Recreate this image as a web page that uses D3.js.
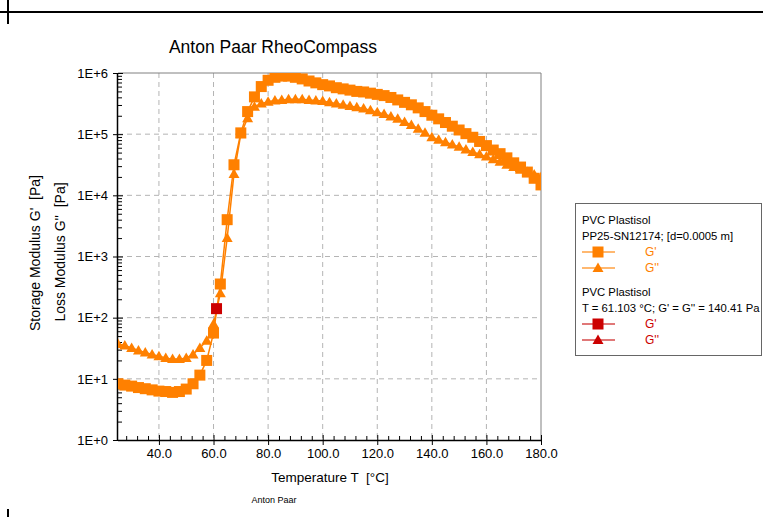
<!DOCTYPE html>
<html>
<head>
<meta charset="utf-8">
<script src="https://cdn.jsdelivr.net/npm/d3@7"></script>
<style>
  body { margin: 0; background: #fff; }
  svg { font-family: Arial, "Liberation Sans", sans-serif; }
  .grid line { stroke: #b4b4b4; stroke-dasharray: 5,4; }
  .axis text { font-size: 13px; fill: #000; }
  .axis path, .axis line { stroke: #000; }
</style>
</head>
<body>
<div class="chart"></div>
<script>
// temperature [°C]
const temps = [25, 27.5, 30, 32.5, 35, 37.5, 40, 42.5, 45, 47.5, 50, 52.5, 55, 57.5, 60, 62.5,
  65, 67.5, 70, 72.5, 75, 77.5, 80, 82.5, 85, 87.5, 90, 92.5, 95, 97.5, 100, 102.5,
  105, 107.5, 110, 112.5, 115, 117.5, 120, 122.5, 125, 127.5, 130, 132.5, 135, 137.5,
  140, 142.5, 145, 147.5, 150, 152.5, 155, 157.5, 160, 162.5, 165, 167.5, 170, 172.5,
  175, 177.5, 180];
// storage modulus G' [Pa]
const gStorage = [8.3, 7.9, 7.6, 7.2, 6.9, 6.6, 6.3, 6.2, 6.0, 6.2, 6.8, 8.3, 11.5, 20, 56, 355,
  4000, 31600, 105000, 234000, 407000, 600000, 760000, 850000, 890000, 890000, 850000, 800000, 740000, 690000, 645000, 615000,
  575000, 550000, 525000, 500000, 490000, 468000, 447000, 427000, 398000, 363000, 331000, 302000, 269000, 234000,
  204000, 178000, 155000, 135000, 117000, 102000, 89000, 76000, 65000, 55000, 48000, 41000, 34000, 29000,
  24000, 19000, 14800];
// loss modulus G'' [Pa]
const gLoss = [37, 35, 32, 29, 27, 25, 23.5, 22, 21, 21, 22, 25, 32, 42, 79, 250,
  2000, 22400, 100000, 182000, 282000, 316000, 339000, 355000, 363000, 372000, 372000, 372000, 363000, 355000, 347000, 331000,
  316000, 302000, 288000, 275000, 263000, 245000, 229000, 214000, 195000, 178000, 158000, 141000, 123000, 105000,
  89000, 81000, 74000, 68000, 62000, 56000, 51000, 47000, 43000, 39000, 35500, 31600, 29000, 26300,
  24000, 22000, 20000];
// crossover point
const crossT = [61.103];
const crossG = [140.41];

const xTicks = [40, 60, 80, 100, 120, 140, 160, 180];
const yTicks = [1, 10, 100, 1000, 10000, 100000, 1000000];

const orange = "#ff8000";
const red = "#cc0000";

const svg = d3.select(".chart")
  .append("svg")
    .attr("width", 763)
    .attr("height", 517);

// page frame marks
svg.append("line").attr("x1", 0).attr("x2", 763).attr("y1", 12).attr("y2", 12)
  .attr("stroke", "#000").attr("stroke-width", 2);
svg.append("line").attr("x1", 8).attr("x2", 8).attr("y1", 0).attr("y2", 24)
  .attr("stroke", "#000").attr("stroke-width", 2);
svg.append("line").attr("x1", 8).attr("x2", 8).attr("y1", 509).attr("y2", 517)
  .attr("stroke", "#000").attr("stroke-width", 2);

const pLeft = 118, pRight = 541, pTop = 73, pBottom = 440;

const x = d3.scaleLinear().domain([25, 180]).range([pLeft, pRight]);
const y = d3.scaleLog().domain([1, 1e6]).range([pBottom, pTop]);

// grid
svg.append("g").attr("class", "grid")
  .selectAll("line").data(xTicks.filter(d => d < 180)).enter().append("line")
    .attr("x1", d => x(d)).attr("x2", d => x(d))
    .attr("y1", pTop).attr("y2", pBottom);
svg.append("g").attr("class", "grid")
  .selectAll("line").data(yTicks.filter(d => d > 1 && d < 1e6)).enter().append("line")
    .attr("x1", pLeft).attr("x2", pRight)
    .attr("y1", d => y(d)).attr("y2", d => y(d));

// frame top / right
svg.append("line").attr("x1", pLeft).attr("x2", pRight).attr("y1", pTop).attr("y2", pTop)
  .attr("stroke", "#808080");
svg.append("line").attr("x1", pRight).attr("x2", pRight).attr("y1", pTop).attr("y2", pBottom)
  .attr("stroke", "#808080");

// minor ticks
const xMinor = d3.range(28, 180, 4).filter(d => !xTicks.includes(d));
const yMinor = [];
yTicks.slice(0, -1).forEach(p => { for (let m = 2; m < 10; m++) yMinor.push(p * m); });

svg.append("g").attr("class", "axis")
  .attr("transform", `translate(0,${pBottom})`)
  .call(d3.axisTop(x).tickValues(xMinor).tickSize(4).tickFormat(""))
  .select(".domain").remove();
svg.append("g").attr("class", "axis")
  .attr("transform", `translate(${pLeft},0)`)
  .call(d3.axisRight(y).tickValues(yMinor).tickSize(4).tickFormat(""))
  .select(".domain").remove();

// major axes
const xAxis = svg.append("g").attr("class", "axis")
  .attr("transform", `translate(0,${pBottom})`)
  .call(d3.axisBottom(x).tickValues(xTicks).tickSizeInner(5).tickSizeOuter(0)
    .tickPadding(4).tickFormat(d3.format(".1f")));
xAxis.select(".domain").attr("d", `M${pLeft},0.5H${pRight}`).attr("stroke-width", 1.5);
xAxis.selectAll(".tick line").attr("y1", -5);

const yAxis = svg.append("g").attr("class", "axis")
  .attr("transform", `translate(${pLeft},0)`)
  .call(d3.axisLeft(y).tickValues(yTicks).tickSizeInner(5).tickSizeOuter(0)
    .tickPadding(5).tickFormat(d => "1E+" + Math.round(Math.log10(d))));
yAxis.select(".domain").attr("d", `M-0.5,${pTop}V${pBottom}`).attr("stroke-width", 1.5);
yAxis.selectAll(".tick line").attr("x1", 5);

// plot clip
svg.append("clipPath").attr("id", "plotclip")
  .append("rect").attr("x", pLeft).attr("y", pTop)
  .attr("width", pRight - pLeft).attr("height", pBottom - pTop);

const plot = svg.append("g").attr("clip-path", "url(#plotclip)");

const seriesStorage = temps.map((t, i) => ({ t: t, g: gStorage[i] }));
const seriesLoss = temps.map((t, i) => ({ t: t, g: gLoss[i] }));
const cross = crossT.map((t, i) => ({ t: t, g: crossG[i] }));

const line = d3.line().x(d => x(d.t)).y(d => y(d.g));

const sq = 11;
const triPath = "M0,-5.5L5.5,4L-5.5,4Z";

function drawSeries(data, kind, color) {
  plot.append("path").datum(data)
    .attr("d", line).attr("fill", "none")
    .attr("stroke", color).attr("stroke-width", 1.5);
  if (kind === "square") {
    plot.append("g").selectAll("rect").data(data).enter().append("rect")
      .attr("x", d => x(d.t) - sq / 2).attr("y", d => y(d.g) - sq / 2)
      .attr("width", sq).attr("height", sq).attr("fill", color);
  } else {
    plot.append("g").selectAll("path").data(data).enter().append("path")
      .attr("d", triPath)
      .attr("transform", d => `translate(${x(d.t)},${y(d.g)})`)
      .attr("fill", color);
  }
}

drawSeries(seriesLoss, "triangle", orange);
drawSeries(seriesStorage, "square", orange);
drawSeries(cross, "triangle", red);
drawSeries(cross, "square", red);

// title and labels
svg.append("text").attr("x", 273).attr("y", 53).attr("text-anchor", "middle")
  .attr("font-size", 17.5).text("Anton Paar RheoCompass");

svg.append("text").attr("transform", "translate(40,253) rotate(-90)")
  .attr("text-anchor", "middle").attr("font-size", 14).style("white-space", "pre")
  .text("Storage Modulus G'  [Pa]");
svg.append("text").attr("transform", "translate(65,252) rotate(-90)")
  .attr("text-anchor", "middle").attr("font-size", 14).style("white-space", "pre")
  .text("Loss Modulus G''  [Pa]");

svg.append("text").attr("x", 330).attr("y", 482).attr("text-anchor", "middle")
  .attr("font-size", 13.5).style("white-space", "pre")
  .text("Temperature T  [°C]");

svg.append("text").attr("x", 274).attr("y", 503).attr("text-anchor", "middle")
  .attr("font-size", 9).text("Anton Paar");

// legend
const lg = svg.append("g");
lg.append("rect").attr("x", 575.5).attr("y", 203.5).attr("width", 186).attr("height", 152)
  .attr("fill", "#fff").attr("stroke", "#666");

const legendText = [
  { text: "PVC Plastisol", y: 224 },
  { text: "PP25-SN12174; [d=0.0005 m]", y: 240 },
  { text: "PVC Plastisol", y: 296 },
  { text: "T = 61.103 °C; G' = G'' = 140.41 Pa", y: 312 }
];
lg.selectAll(".legend-text").data(legendText).enter().append("text")
  .attr("x", 582).attr("y", d => d.y).attr("font-size", 11.3).text(d => d.text);

const legendItems = [
  { label: "G'", kind: "square", color: orange, line: "#ffb870", y: 252 },
  { label: "G''", kind: "triangle", color: orange, line: "#ffb870", y: 268 },
  { label: "G'", kind: "square", color: red, line: "#e07878", y: 324 },
  { label: "G''", kind: "triangle", color: red, line: "#e07878", y: 340 }
];
legendItems.forEach(d => {
  lg.append("line").attr("x1", 582).attr("x2", 615).attr("y1", d.y).attr("y2", d.y)
    .attr("stroke", d.line).attr("stroke-width", 2);
  if (d.kind === "square") {
    lg.append("rect").attr("x", 598 - 5.5).attr("y", d.y - 5.5)
      .attr("width", 11).attr("height", 11).attr("fill", d.color);
  } else {
    lg.append("path").attr("d", triPath)
      .attr("transform", `translate(598,${d.y})`).attr("fill", d.color);
  }
  lg.append("text").attr("x", 645).attr("y", d.y + 4).attr("font-size", 12)
    .attr("fill", d.color).text(d.label);
});
</script>
</body>
</html>
